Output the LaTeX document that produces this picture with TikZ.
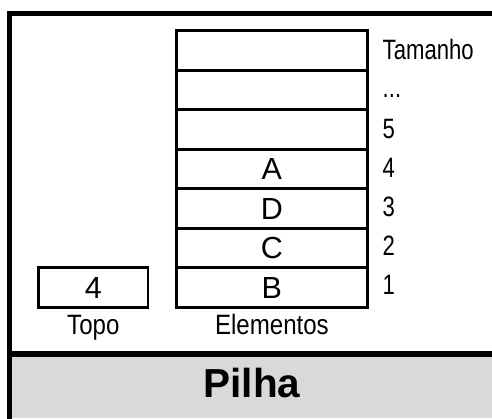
\documentclass[tikz,border=0pt]{standalone}
\usepackage{fontspec}
\usetikzlibrary{calc}
\setmainfont{Liberation Sans}
\newfontfamily\narrowfont[FakeStretch=0.79]{Liberation Sans}
\newfontfamily\capfont[FakeStretch=0.86]{Liberation Sans}
\definecolor{panelgray}{HTML}{D9D9D9}
\begin{document}
\begin{tikzpicture}[x=1pt,y=-1pt,
  cell/.style={draw=black,line width=2.6pt,minimum width=191.2pt,minimum height=39.5pt,inner sep=0pt,outer sep=0pt},
  celltxt/.style={inner sep=0pt,anchor=base,font=\fontsize{30.5}{36}\selectfont},
  lbl/.style={inner sep=0pt,anchor=base west,font=\narrowfont\fontsize{28}{33}\selectfont},
  caption/.style={inner sep=0pt,anchor=base,font=\capfont\fontsize{28}{33}\selectfont},
  title/.style={inner sep=0pt,anchor=base,font=\bfseries\fontsize{40.5}{46}\selectfont},
  frameline/.style={line width=5.6pt}]
\useasboundingbox (0,0) rectangle (492,419);
\clip (0,0) rectangle (492,419);
% gray title band
\fill[panelgray] (12,357) rectangle (530,418);
% frame
\draw[frameline] (9.5,450) -- (9.5,13.7) -- (530,13.7);
\draw[frameline] (9.5,353.8) -- (530,353.8);
% stack cells
\foreach \i/\yc in {1/50.46,2/89.97,3/129.49,4/169.0,5/208.5,6/248.0,7/287.55}{
  \node[cell] (r\i) at (271.9,\yc) {};
}
% contents
\node[celltxt] (a) at ($(r4.center)+(0,10.9)$) {A};
\node[celltxt] (d) at ($(r5.center)+(0,10.9)$) {D};
\node[celltxt] (c) at ($(r6.center)+(0,10.9)$) {C};
\node[celltxt] (b) at ($(r7.center)+(0,10.9)$) {B};
% right labels
\node[lbl] (l1) at (382.5,59.5) {Tamanho};
\node[lbl] (l2) at (382.5,97.5) {...};
\node[lbl] (l3) at (382.5,139) {5};
\node[lbl] (l4) at (382.5,178) {4};
\node[lbl] (l5) at (382.5,217) {3};
\node[lbl] (l6) at (382.5,256) {2};
\node[lbl] (l7) at (382.5,294.5) {1};
% topo box
\node[draw=black,line width=2.6pt,minimum width=109.3pt,minimum height=39.5pt,inner sep=0pt] (topo) at (93.3,287.55) {};
\node[celltxt] (topov) at ($(topo.center)+(0,10.9)$) {4};
% captions
\node[caption] (topolbl) at (93.3,334.5) {Topo};
\node[caption] (elemlbl) at (271.9,334.5) {Elementos};
% title
\node[title] (pilha) at (252,397.7) {Pilha};
\end{tikzpicture}
\end{document}
